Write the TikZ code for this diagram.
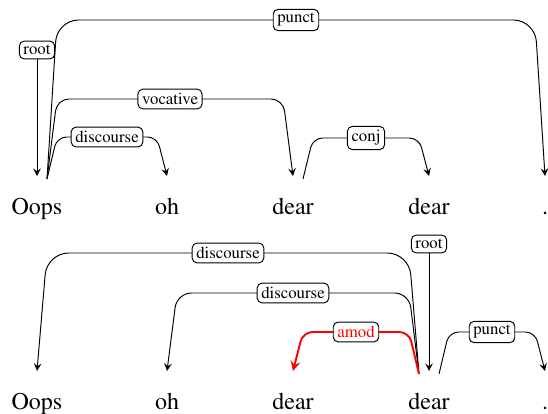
\documentclass[tikz,border=0pt]{standalone}
\usepackage[T1]{fontenc}
\usepackage{times}
\usetikzlibrary{calc}
\tikzset{
  word/.style={anchor=base, inner sep=0pt},
  lab/.style={draw=black, line width=0.4pt, fill=white, rounded corners=2pt, inner sep=1.7pt, font=\scriptsize},
  dep/.style={->, rounded corners=4pt},
}
% #2 head, #3 offset (sign = direction), #4 dependent, #5 level, #6 label
\newcommand{\deparc}[6][]{%
  \path ($(#2.base)+(#3,-35)$) coordinate (s) ($(#4.base)+(0,-38)$) coordinate (e);
  \draw[dep,#1] (s) -- ($(s |- 0,#5)+(#3,0)$) -- node[lab]{#6} ($(e |- 0,#5)-(#3,0)$) -- (e);
}
\begin{document}
\begin{tikzpicture}[x=0.4167pt, y=-0.4167pt, >=stealth, line join=round]
	\useasboundingbox (0,0) rectangle (548,414);
	\foreach \i/\x/\w in {1/37/Oops, 2/167/oh, 3/293/dear, 4/429/dear, 5/545/.}{
		\node[word] (t\i) at (\x,214) {\w};
		\node[word] (b\i) at (\x,409) {\w};
	}
	% first parse
	\node[lab] (rt) at (t1 |- 0,50) {root};
	\draw[->] (rt) -- ($(t1.base)+(0,-38)$);
	\deparc[rounded corners=9pt]{t1}{10}{t5}{20}{punct}
	\deparc[rounded corners=5pt]{t1}{10}{t3}{99}{vocative}
	\deparc{t1}{10}{t2}{137}{discourse}
	\deparc{t3}{10}{t4}{138}{conj}
	% second parse
	\node[lab] (rb) at (b4 |- 0,244) {root};
	\draw[->] (rb) -- ($(b4.base)+(0,-38)$);
	\deparc[rounded corners=9pt]{b4}{-10}{b1}{253}{discourse}
	\deparc[rounded corners=6pt]{b4}{-10}{b2}{293}{discourse}
	\deparc[red, thick]{b4}{-10}{b3}{332}{amod}
	\deparc{b4}{10}{b5}{332}{punct}
\end{tikzpicture}
\end{document}
